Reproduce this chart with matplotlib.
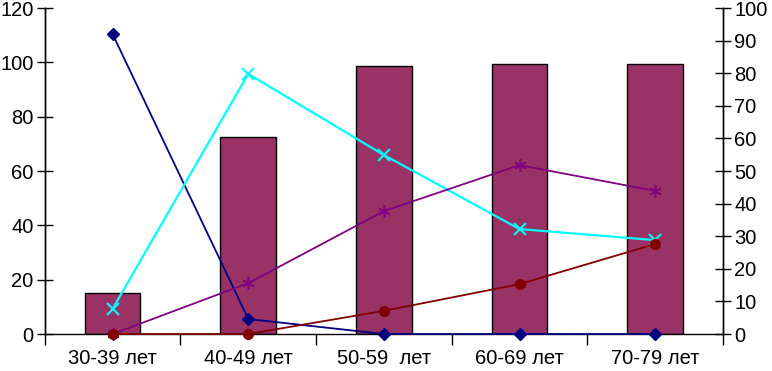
import matplotlib.pyplot as plt
import numpy as np

plt.rcParams['font.family'] = ['Liberation Sans', 'DejaVu Sans']

# Categories and data
groups = ["30-39 лет", "40-49 лет", "50-59  лет", "60-69 лет", "70-79 лет"]
bar_values = [15, 72.5, 98.5, 99.5, 99.5]          # left axis
blue_diamond = [92, 4.6, 0, 0, 0]                 # right axis
cyan_cross = [7.7, 79.8, 54.9, 32.2, 28.8]
purple_star = [0, 15.6, 37.7, 51.8, 43.9]
red_circle = [0, 0, 7.1, 15.3, 27.6]

fig = plt.figure(figsize=(7.72, 3.71), dpi=100)
ax = fig.add_axes([0.058, 0.0997, 0.8785, 0.8787])
ax2 = ax.twinx()

x = np.arange(len(groups))
ax.bar(x, bar_values, width=0.41, color='#993366', edgecolor='black', linewidth=1.0, zorder=2)

ax2.plot(x, blue_diamond, color='#000080', marker='D', markersize=6, linewidth=1.3, zorder=3, clip_on=False)
ax2.plot(x, cyan_cross, color='#00FFFF', marker='x', markersize=8, markeredgewidth=1.5, linewidth=1.6, zorder=3, clip_on=False)
ax2.plot(x, purple_star, color='#800080', marker=(6, 2, 0), markersize=9, markeredgewidth=1.1,
         linewidth=1.3, zorder=3, clip_on=False)
ax2.plot(x, red_circle, color='#800000', marker='o', markersize=7, linewidth=1.3, zorder=3, clip_on=False)

ax.set_xlim(-0.5, len(groups) - 0.5)
ax.set_ylim(0, 120)
ax2.set_ylim(0, 100)
ax.set_yticks(np.arange(0, 121, 20))
ax2.set_yticks(np.arange(0, 101, 10))

# category boundaries as ticks, labels centered
ax.set_xticks(np.arange(-0.5, len(groups) + 0.5, 1))
ax.set_xticklabels([])
ax.set_xticks(x, minor=True)
ax.set_xticklabels(groups, minor=True, fontsize=14.5)
ax.tick_params(axis='x', which='minor', length=0, pad=11)
ax.tick_params(axis='x', which='major', direction='out', length=8, width=1)

ax.tick_params(axis='y', direction='inout', length=12, width=1, labelsize=14.5, pad=2)
ax2.tick_params(axis='y', direction='inout', length=12, width=1, labelsize=14.5, pad=2)

for a in (ax, ax2):
    a.spines['top'].set_visible(False)
    a.spines['left'].set_linewidth(1)
    a.spines['right'].set_linewidth(1)
    a.spines['bottom'].set_linewidth(1)
    a.patch.set_visible(False)
ax2.spines['bottom'].set_visible(False)

fig.savefig('out.png', dpi=100)
